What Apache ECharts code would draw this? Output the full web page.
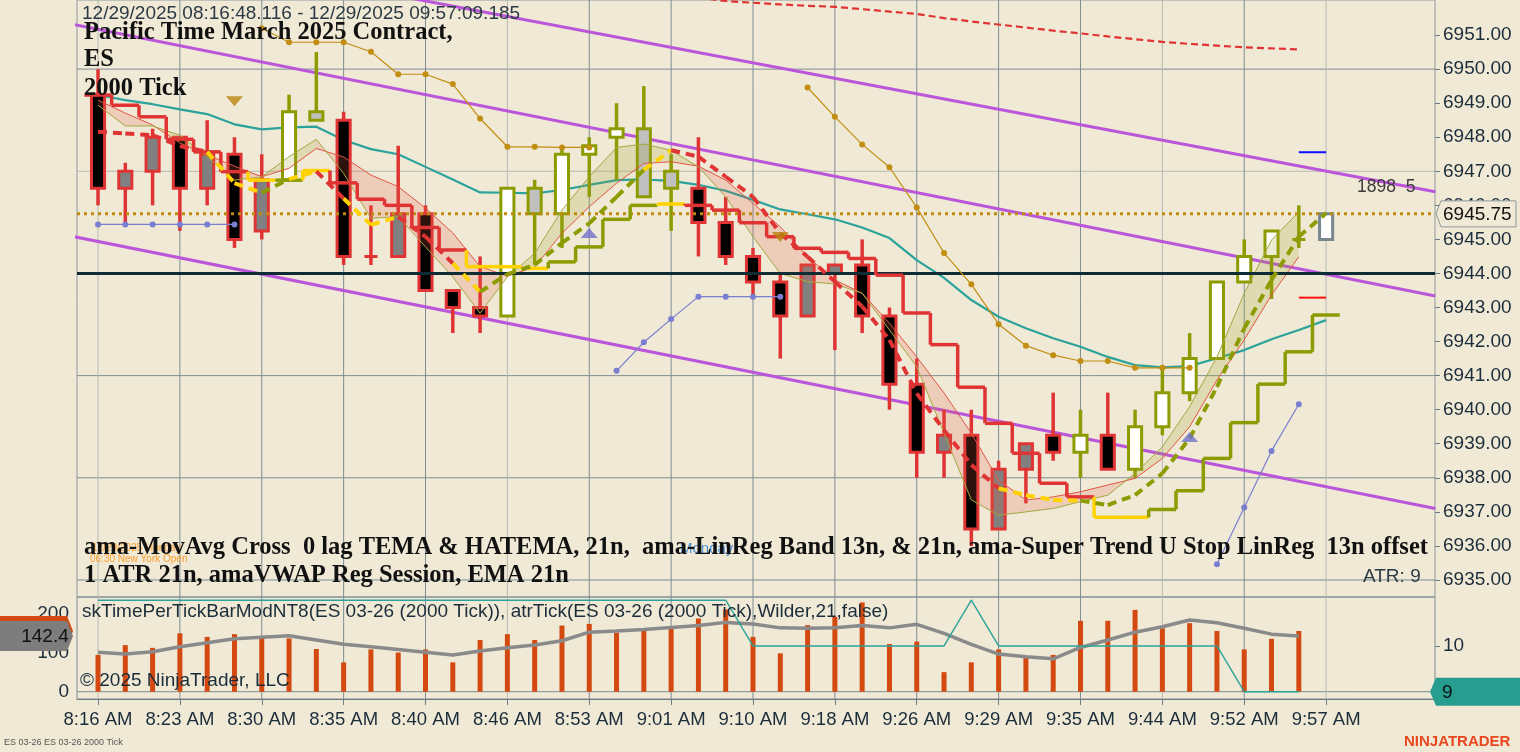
<!DOCTYPE html>
<html><head><meta charset="utf-8">
<script src="https://cdn.jsdelivr.net/npm/echarts@6.0.0/dist/echarts.min.js"></script>
<style>html,body{margin:0;padding:0;background:#f0e9d6;}#c{width:1520px;height:752px;}</style>
</head><body><div id="c"></div>
<script>
// ---------------- DATA ----------------
const times = ['8:16 AM','8:23 AM','8:30 AM','8:35 AM','8:40 AM','8:46 AM','8:53 AM','9:01 AM','9:10 AM','9:18 AM','9:26 AM','9:29 AM','9:35 AM','9:44 AM','9:52 AM','9:57 AM'];
const timeTickBars = [0,3,6,9,12,15,18,21,24,27,30,33,36,39,42,45];
const priceTicks = [6935,6936,6937,6938,6939,6940,6941,6942,6943,6944,6945,6946,6947,6948,6949,6950,6951];
const volTicks = [0,100,200];
const atrTicks = [10];

const open  = [6949.25,6946.5,6947.0,6948.0,6946.5,6947.5,6945.25,6946.75,6948.75,6948.5,6944.5,6944.5,6945.75,6943.5,6943.0,6942.75,6946.5,6945.75,6947.5,6948.0,6948.25,6947.0,6946.5,6945.5,6944.5,6943.75,6942.75,6944.0,6944.25,6942.75,6940.75,6938.75,6939.25,6936.5,6938.25,6939.25,6938.75,6939.25,6938.25,6939.5,6940.5,6941.5,6943.75,6944.5,6945.0,6945.0];
const high  = [6950.0,6947.25,6948.25,6948.0,6948.5,6948.0,6947.5,6949.25,6950.5,6948.75,6946.0,6947.75,6946.0,6943.5,6944.5,6946.5,6946.75,6947.75,6948.0,6949.0,6949.5,6947.5,6948.0,6946.25,6944.75,6944.0,6944.25,6944.25,6945.0,6943.0,6941.5,6940.0,6940.0,6938.5,6939.0,6940.5,6940.0,6940.5,6940.0,6941.25,6942.25,6943.75,6945.0,6945.25,6946.0,6945.75];
const low   = [6946.0,6945.5,6946.0,6945.25,6946.0,6944.75,6945.0,6946.75,6948.5,6944.25,6944.25,6944.5,6943.5,6942.25,6942.25,6942.75,6944.25,6944.75,6946.25,6946.75,6946.25,6945.25,6944.5,6944.25,6943.25,6941.5,6942.75,6941.75,6942.25,6940.0,6938.0,6938.0,6936.0,6936.5,6937.25,6938.5,6938.0,6938.25,6938.0,6939.25,6940.25,6941.5,6943.75,6943.25,6944.75,6945.0];
const close = [6946.5,6947.0,6948.0,6946.5,6947.5,6945.0,6946.75,6948.75,6948.5,6944.5,6944.5,6945.75,6943.5,6943.0,6942.75,6946.5,6945.75,6947.5,6947.75,6948.25,6946.25,6946.5,6945.5,6944.5,6943.75,6942.75,6944.25,6944.25,6942.75,6940.75,6938.75,6939.25,6936.5,6938.25,6939.0,6938.75,6939.25,6938.25,6939.5,6940.5,6941.5,6943.75,6944.5,6945.25,6945.0,6945.75];
// candle outline trend state: D = down, U = up, C = current bar
const barTrend = ('DDDDDDD'+'UU'+'DDDDDD'+'UUUUUUU'+'DDDDDDDDDDDDDD'+'U'+'D'+'UUUUUUU'+'C').split('');

// Super Trend stop (step) and its state R/Y/O
const stopLine = [6949.24,6948.94,6948.60,6947.94,6947.57,6946.99,6946.74,6946.74,6947.02,6946.66,6946.18,6946.00,6945.35,6944.69,6944.20,6944.20,6944.15,6944.34,6944.78,6945.59,6946.00,6946.04,6946.00,6945.86,6945.49,6945.08,6944.74,6944.62,6944.44,6943.95,6942.84,6941.91,6940.66,6939.60,6938.72,6937.84,6937.44,6936.84,6936.84,6937.07,6937.62,6938.57,6939.62,6940.75,6941.70,6942.78];
const stopState = ('RRRRRR'+'Y'+'O'+'Y'+'RRRRR'+'YYY'+'OOOO'+'Y'+'RRRRRRRRRRRRRRR'+'YY'+'OOOOOOO').split('');

// MovAvg cross (dashed) and state
const maLine = [6948.16,6948.11,6948.06,6947.74,6947.57,6946.65,6946.37,6946.77,6947.0,6946.2,6945.43,6945.66,6945.08,6944.3,6943.46,6943.98,6944.25,6944.9,6945.47,6946.25,6947.04,6947.62,6947.43,6946.84,6946.25,6945.18,6944.49,6943.76,6943.03,6942.05,6940.48,6939.4,6938.38,6937.69,6937.49,6937.35,6937.33,6937.2,6937.49,6938.13,6939.16,6940.67,6942.39,6943.81,6945.08,6945.77];
const maState = ('RRRRR'+'YY'+'O'+'Y'+'R'+'YY'+'RR'+'Y'+'OOOOOO'+'Y'+'RRRRRRRRRRRR'+'YYY'+'OOOOOOOOO').split('');

// LinReg band thin lines
const bandRed   = [6949.09,6948.71,6948.36,6947.83,6947.48,6947.15,6946.84,6947.09,6947.67,6947.42,6946.89,6946.55,6945.92,6945.19,6944.20,6943.92,6944.19,6945.18,6945.96,6946.65,6947.23,6947.28,6947.15,6946.74,6946.06,6945.37,6944.49,6943.81,6943.42,6942.54,6941.55,6940.49,6939.31,6937.93,6937.35,6937.44,6937.59,6937.79,6937.98,6938.57,6939.50,6940.87,6942.05,6943.37,6944.49];
const bandOlive = [6948.94,6948.33,6948.33,6948.06,6947.43,6946.74,6946.84,6947.43,6947.94,6946.94,6945.62,6945.67,6944.78,6943.90,6942.83,6943.90,6944.59,6945.86,6946.84,6947.70,6947.80,6947.62,6947.13,6946.25,6945.08,6944.00,6943.76,6943.69,6943.42,6942.34,6941.26,6939.31,6937.35,6936.90,6937.00,6937.10,6937.30,6937.49,6938.13,6938.91,6940.09,6941.55,6943.42,6944.98,6945.81];

// EMA 21
const emaLine = [6949.24,6949.09,6948.97,6948.82,6948.68,6948.38,6948.23,6948.29,6948.31,6947.92,6947.65,6947.50,6947.13,6946.76,6946.38,6946.37,6946.35,6946.45,6946.60,6946.74,6946.76,6946.72,6946.60,6946.43,6946.16,6945.88,6945.74,6945.59,6945.35,6945.04,6944.39,6943.87,6943.22,6942.73,6942.39,6942.10,6941.85,6941.55,6941.31,6941.24,6941.28,6941.51,6941.75,6942.07,6942.34,6942.63];

// VWAP style dotted segments
const vwapAStart = 6;
const vwapA = [6951.2,6950.79,6950.79,6950.79,6950.51,6949.85,6949.85,6949.56,6948.55,6947.72,6947.72,6947.70,6947.70];
const vwapBStart = 26;
const vwapB = [6949.46,6948.60,6947.79,6947.12,6945.94,6944.60,6943.68,6942.51,6941.88,6941.60,6941.43,6941.43,6941.23,6941.23,6941.23];
const blueAStart = 0;
const blueA = [6945.44,6945.44,6945.44,6945.44,6945.44,6945.44];
const blueBStart = 19;
const blueB = [6941.14,6941.98,6942.66,6943.32,6943.32,6943.32,6943.32];
const blueCStart = 41;
const blueC = [6935.46,6937.13,6938.79,6940.16];
const redDashStart = 22;
const redDash = [6952.1,6952.0,6951.95,6951.9,6951.86,6951.83,6951.76,6951.69,6951.62,6951.5,6951.4,6951.31,6951.22,6951.13,6951.05,6950.96,6950.88,6950.8,6950.74,6950.69,6950.64,6950.61,6950.58];

// regression channel lines (value at bar -1 and bar 49)
const chanBars = [-1, 49];
const chanTop = [6953.97, 6946.40];
const chanMid = [6951.33, 6943.34];
const chanBot = [6945.10, 6937.10];

const levelLine = 6944.0;
const lastPrice = 6945.75;
const blueMark = 6947.56, redMark = 6943.29, markBars = [44, 45];
const downSignals = [[5, 6949.06], [25, 6945.07]];
const upSignals = [[18, 6945.19], [40, 6939.2]];

// lower panel
const timePerTick = [94,119,112,149,140,147,139,136,109,75,108,100,108,75,132,147,132,169,173,151,158,163,187,210,140,98,170,191,228,122,128,50,75,108,89,94,181,181,209,162,175,155,108,135,155];
const timePerTickAvg = [101,96,102,115,125,135,139,143,132,121,115,108,101,94,104,112,119,130,152,155,159,164,169,177,173,163,162,163,169,163,172,149,121,96,89,84,113,132,152,166,183,176,162,147,142.4];
const atrValues = [11,11,11,11,11,11,11,11,11,11,11,11,11,11,11,11,11,11,11,11,11,11,11,11,10,10,10,10,10,10,10,10,11,10,10,10,10,10,10,10,10,10,9,9,9];

// ---------------- STYLE ----------------
const XMIN = -0.77, XMAX = 48.99;
const RED = '#e03434', OLIVE = '#8c9c00', YELLOW = '#ffd200', TEAL = '#2ba39a', PURPLE = '#bb55d9', GOLD = '#c28e12', BLUE = '#7a7ed0';
const GRID = '#7e8d93', GRIDL = '#b6bab4', AXT = '#1b2d3a';
const SANS = '"Liberation Sans", Arial, sans-serif';
const SERIF = '"Liberation Serif", "DejaVu Serif", serif';
const stateColor = {R: RED, Y: YELLOW, O: OLIVE};
const lightV = [0, 15, 39, 45];
const lightH = [6947];
const hGrid = [6935, 6938, 6941, 6947, 6950];

const chart = echarts.init(document.getElementById('c'), null, {renderer: 'canvas'});

const seq = (start, arr) => arr.map((v, k) => [start + k, v]);

function gridLineItem(params, api) {
  const cs = params.coordSys;
  const kind = api.value(0), v = api.value(1), ref = api.value(2);
  const isLight = api.value(3) === 1;
  const col = isLight ? GRIDL : GRID;
  if (kind === 0) {
    const y = api.coord([ref, v])[1];
    return {type: 'line', shape: {x1: cs.x, y1: y, x2: cs.x + cs.width, y2: y}, style: {stroke: col, lineWidth: 1}};
  }
  const x = api.coord([v, ref])[0];
  return {type: 'line', shape: {x1: x, y1: cs.y, x2: x, y2: cs.y + cs.height}, style: {stroke: col, lineWidth: 1}};
}

function renderCandle(params, api) {
  const idx = params.dataIndex;
  const i = api.value(0), o = api.value(1), c = api.value(2), l = api.value(3), h = api.value(4);
  const st = barTrend[idx];
  const stroke = st === 'D' ? RED : (st === 'U' ? OLIVE : '#78868f');
  let fill;
  if (st === 'D') fill = c > o ? '#808080' : '#000000';
  else if (st === 'U') fill = c < o ? '#c0c0c0' : '#ffffff';
  else fill = '#ffffff';
  const pO = api.coord([i, o]), pC = api.coord([i, c]), pH = api.coord([i, h]), pL = api.coord([i, l]);
  const w = api.size([1, 0])[0] * 0.48;
  const top = Math.min(pO[1], pC[1]), bot = Math.max(pO[1], pC[1]);
  return {type: 'group', children: [
    {type: 'line', shape: {x1: pH[0], y1: pH[1], x2: pL[0], y2: pL[1]}, style: {stroke, lineWidth: 3.5}},
    {type: 'rect', shape: {x: pO[0] - w / 2, y: top, width: w, height: bot - top}, style: {fill, stroke, lineWidth: 3}}
  ]};
}

function renderBand(params, api) {
  const i = api.value(0);
  const r0 = api.value(1), o0 = api.value(2), r1 = api.value(3), o1 = api.value(4);
  const pts = [api.coord([i, r0]), api.coord([i + 1, r1]), api.coord([i + 1, o1]), api.coord([i, o0])];
  const up = (o0 + o1) > (r0 + r1);
  return {type: 'polygon', shape: {points: pts}, style: {fill: up ? 'rgba(160,160,40,0.20)' : 'rgba(225,90,70,0.20)'}};
}

function renderStop(params, api) {
  const idx = params.dataIndex;
  const i = api.value(0), v = api.value(1), pv = api.value(2);
  const col = stateColor[stopState[idx]];
  const a = api.coord([i - 0.5, v]), b = api.coord([i + 0.5, v]), p = api.coord([i - 0.5, pv]);
  const ch = [{type: 'line', shape: {x1: a[0], y1: a[1], x2: b[0], y2: b[1]}, style: {stroke: col, lineWidth: 3.5}}];
  if (idx > 0) ch.push({type: 'line', shape: {x1: p[0], y1: p[1], x2: a[0], y2: a[1]}, style: {stroke: col, lineWidth: 3.5}});
  return {type: 'group', children: ch};
}

function renderMA(params, api) {
  const i = api.value(0);
  const a = api.coord([i - 1, api.value(1)]), b = api.coord([i, api.value(2)]);
  const col = stateColor[maState[i]];
  return {type: 'line', shape: {x1: a[0], y1: a[1], x2: b[0], y2: b[1]}, style: {stroke: col, lineWidth: 4, lineDash: [9, 6]}};
}

function renderVolBar(params, api) {
  const i = api.value(0), v = api.value(1);
  const a = api.coord([i, 0]), b = api.coord([i, v]);
  return {type: 'rect', shape: {x: a[0] - 2.5, y: b[1], width: 5, height: a[1] - b[1]}, style: {fill: '#d4490f'}};
}

function renderPriceTag(params, api) {
  const cs = params.coordSys;
  const y = api.coord([XMAX, api.value(0)])[1];
  const x0 = cs.x + cs.width;
  return {type: 'group', children: [
    {type: 'polygon', shape: {points: [[x0 + 1, y], [x0 + 6, y - 13], [1516, y - 13], [1516, y + 13], [x0 + 6, y + 13]]},
     style: {fill: '#f0e9d6', stroke: '#8d999e', lineWidth: 1}},
    {type: 'text', style: {text: api.value(0).toFixed(2), x: x0 + 8, y: y + 1, verticalAlign: 'middle', font: '19px ' + SANS, fill: '#111'}}
  ]};
}

function renderAtrTag(params, api) {
  const cs = params.coordSys;
  const y = api.coord([XMAX, api.value(0)])[1];
  const x0 = cs.x + cs.width - 5;
  return {type: 'group', children: [
    {type: 'polygon', shape: {points: [[x0, y], [x0 + 6, y - 14], [1520, y - 14], [1520, y + 14], [x0 + 6, y + 14]]}, style: {fill: '#279d8f'}},
    {type: 'text', style: {text: String(api.value(0)), x: x0 + 12, y: y + 1, verticalAlign: 'middle', font: '19px ' + SANS, fill: '#111'}}
  ]};
}

function renderLeftTag(params, api) {
  const cs = params.coordSys;
  const y = api.coord([XMIN, api.value(0)])[1];
  const isAvg = api.value(1) === 1;
  const x1 = cs.x - 4;
  const pts = [[0, y - 15], [x1 - 6, y - 15], [x1, y], [x1 - 6, y + 15], [0, y + 15]];
  const ch = [{type: 'polygon', shape: {points: pts}, style: {fill: isAvg ? '#7d7d7d' : '#d4490f'}}];
  if (isAvg) ch.push({type: 'text', style: {text: String(api.value(0)), x: 45, y: y + 1, align: 'center', verticalAlign: 'middle', font: '19px ' + SANS, fill: '#111'}});
  return {type: 'group', children: ch};
}

// grid line data
const gridMain = [];
hGrid.forEach(v => gridMain.push([0, v, 0, lightH.includes(v) ? 1 : 0]));
timeTickBars.forEach(b => gridMain.push([1, b, 6940, lightV.includes(b) ? 1 : 0]));
const gridLow = [[0, 0, 0, 0]];
timeTickBars.forEach(b => gridLow.push([1, b, 100, lightV.includes(b) ? 1 : 0]));

const lineS = (data, color, width, extra) => Object.assign({
  type: 'line', xAxisIndex: 0, yAxisIndex: 0, data, symbol: 'none', silent: true,
  lineStyle: {color, width}, z: 3
}, extra || {});

const dotLine = (data, color, z) => ({
  type: 'line', xAxisIndex: 0, yAxisIndex: 0, data, symbol: 'circle', symbolSize: 6, showAllSymbol: true,
  itemStyle: {color}, lineStyle: {color, width: 1.2}, z, silent: true
});

const option = {
  backgroundColor: '#f0e9d6',
  animation: false,
  grid: [
    {left: 77, right: 85, top: 0, height: 597, show: true, borderColor: '#8d999e', borderWidth: 1, backgroundColor: 'transparent'},
    {left: 77, right: 85, top: 597, height: 102, show: true, borderColor: '#7e8d93', borderWidth: 1, backgroundColor: 'transparent'}
  ],
  xAxis: [
    {gridIndex: 0, type: 'value', min: XMIN, max: XMAX, show: false, axisLine: {onZero: false}},
    {gridIndex: 1, type: 'value', min: XMIN, max: XMAX,
     axisLine: {show: true, onZero: false, lineStyle: {color: '#6d7c82'}},
     axisTick: {show: true, customValues: timeTickBars, length: 6, lineStyle: {color: '#6d7c82'}},
     axisLabel: {customValues: timeTickBars, formatter: v => times[Math.round(v / 3)], fontSize: 18.5, color: AXT, margin: 11, fontFamily: SANS},
     splitLine: {show: false}}
  ],
  yAxis: [
    {gridIndex: 0, type: 'value', position: 'right', min: 6934.5, max: 6952.03,
     axisLine: {show: false, onZero: false}, splitLine: {show: false},
     axisTick: {show: true, customValues: priceTicks, length: 5, lineStyle: {color: '#6d7c82'}},
     axisLabel: {customValues: priceTicks, formatter: v => v.toFixed(2), fontSize: 19, color: AXT, margin: 8, fontFamily: SANS}},
    {gridIndex: 1, type: 'value', position: 'left', min: -18.6, max: 241.8,
     axisLine: {show: false, onZero: false}, splitLine: {show: false},
     axisTick: {show: false},
     axisLabel: {customValues: volTicks, fontSize: 19, color: AXT, margin: 8, fontFamily: SANS}},
    {gridIndex: 1, type: 'value', position: 'right', min: 8.84, max: 11.07,
     axisLine: {show: false, onZero: false}, splitLine: {show: false},
     axisTick: {show: true, customValues: atrTicks, length: 5, lineStyle: {color: '#6d7c82'}},
     axisLabel: {customValues: atrTicks, fontSize: 19, color: AXT, margin: 8, fontFamily: SANS}}
  ],
  series: [
    {type: 'custom', name: 'gridMain', xAxisIndex: 0, yAxisIndex: 0, data: gridMain, renderItem: gridLineItem, z: 1, silent: true, clip: true},
    {type: 'custom', name: 'gridLow', xAxisIndex: 1, yAxisIndex: 1, data: gridLow, renderItem: gridLineItem, z: 1, silent: true, clip: true},
    lineS(chanBars.map((b, k) => [b, chanTop[k]]), PURPLE, 3),
    lineS(chanBars.map((b, k) => [b, chanMid[k]]), PURPLE, 3),
    lineS(chanBars.map((b, k) => [b, chanBot[k]]), PURPLE, 3),
    lineS(seq(0, emaLine), TEAL, 2.2),
    lineS(seq(redDashStart, redDash), RED, 2, {lineStyle: {color: RED, width: 2.2, type: [7, 4]}}),
    {type: 'custom', name: 'candles', xAxisIndex: 0, yAxisIndex: 0, data: open.map((o, i) => [i, o, close[i], low[i], high[i]]),
     encode: {x: 0, y: [1, 2, 3, 4]}, renderItem: renderCandle, z: 5, clip: true, silent: true},
    {type: 'custom', name: 'band', xAxisIndex: 0, yAxisIndex: 0,
     data: bandRed.slice(0, -1).map((r, i) => [i, r, bandOlive[i], bandRed[i + 1], bandOlive[i + 1]]),
     renderItem: renderBand, z: 6, clip: true, silent: true},
    lineS(seq(0, bandRed), '#e25545', 1, {z: 7}),
    lineS(seq(0, bandOlive), '#a3a840', 1, {z: 7}),
    lineS([[XMIN, levelLine], [XMAX, levelLine]], '#0f2c34', 3, {z: 7}),
    lineS([[XMIN, lastPrice], [XMAX, lastPrice]], '#c08a0c', 3, {z: 7, lineStyle: {color: '#c08a0c', width: 3, type: [3, 4]}}),
    lineS(markBars.map(b => [b, blueMark]), '#1010ff', 2, {z: 7}),
    lineS(markBars.map(b => [b, redMark]), '#ff1010', 2, {z: 7}),
    dotLine(seq(vwapAStart, vwapA), GOLD, 8),
    dotLine(seq(vwapBStart, vwapB), GOLD, 8),
    dotLine(seq(blueAStart, blueA), BLUE, 8),
    dotLine(seq(blueBStart, blueB), BLUE, 8),
    dotLine(seq(blueCStart, blueC), BLUE, 8),
    {type: 'custom', name: 'stop', xAxisIndex: 0, yAxisIndex: 0, data: stopLine.map((v, i) => [i, v, i > 0 ? stopLine[i - 1] : v]),
     renderItem: renderStop, z: 9, clip: true, silent: true},
    {type: 'custom', name: 'ma', xAxisIndex: 0, yAxisIndex: 0, data: maLine.slice(1).map((v, k) => [k + 1, maLine[k], v]),
     renderItem: renderMA, z: 10, clip: true, silent: true},
    {type: 'scatter', xAxisIndex: 0, yAxisIndex: 0, data: downSignals, symbol: 'triangle', symbolRotate: 180, symbolSize: [17, 10], itemStyle: {color: '#b8860b'}, z: 11, silent: true},
    {type: 'scatter', xAxisIndex: 0, yAxisIndex: 0, data: upSignals, symbol: 'triangle', symbolSize: [17, 10], itemStyle: {color: '#7070c8'}, z: 11, silent: true},
    {type: 'custom', xAxisIndex: 0, yAxisIndex: 0, data: [[lastPrice]], encode: {y: 0}, renderItem: renderPriceTag, z: 20, silent: true, clip: false},
    {type: 'custom', name: 'tpt', xAxisIndex: 1, yAxisIndex: 1, data: seq(0, timePerTick), renderItem: renderVolBar, z: 3, clip: true, silent: true},
    {type: 'line', xAxisIndex: 1, yAxisIndex: 1, data: seq(0, timePerTickAvg), symbol: 'none', lineStyle: {color: '#8a8a8a', width: 3.5}, z: 4, silent: true},
    {type: 'line', xAxisIndex: 1, yAxisIndex: 2, data: seq(0, atrValues), symbol: 'none', lineStyle: {color: TEAL, width: 1.4}, z: 4, silent: true},
    {type: 'custom', xAxisIndex: 1, yAxisIndex: 2, data: [[atrValues[atrValues.length - 1]]], encode: {y: 0}, renderItem: renderAtrTag, z: 20, silent: true, clip: false},
    {type: 'custom', xAxisIndex: 1, yAxisIndex: 1, data: [[timePerTick[timePerTick.length - 1], 0], [timePerTickAvg[timePerTickAvg.length - 1], 1]], encode: {y: 0}, renderItem: renderLeftTag, z: 20, silent: true, clip: false}
  ],
  graphic: [
    {type: 'text', left: 82, top: 4, z: 100, style: {text: '12/29/2025 08:16:48.116 - 12/29/2025 09:57:09.185', font: '19px ' + SANS, fill: '#2b3a44'}},
    {type: 'text', left: 84, top: 20, z: 100, style: {text: 'Pacific Time March 2025 Contract,', font: 'bold 24.5px ' + SERIF, fill: '#111'}},
    {type: 'text', left: 84, top: 47, z: 100, style: {text: 'ES', font: 'bold 24.5px ' + SERIF, fill: '#111'}},
    {type: 'text', left: 84, top: 76, z: 100, style: {text: '2000 Tick', font: 'bold 24.5px ' + SERIF, fill: '#111'}},
    {type: 'text', left: 1357, top: 178, z: 100, style: {text: '1898  5', font: '17.5px ' + SANS, fill: '#3a3a3a'}},
    {type: 'text', left: 92, top: 543, z: 99, style: {text: '12/29/2025 Monday', font: '10px ' + SANS, fill: '#ff9d2a'}},
    {type: 'text', left: 90, top: 554, z: 99, style: {text: '06:30 New York Open', font: '10px ' + SANS, fill: '#ff9d2a'}},
    {type: 'text', left: 680, top: 541, z: 99, style: {text: 'Monday', font: '15px ' + SANS, fill: '#4a8fd6'}},
    {type: 'text', left: 84, top: 535, z: 100, style: {text: 'ama-MovAvg Cross  0 lag TEMA & HATEMA, 21n,  ama-LinReg Band 13n, & 21n, ama-Super Trend U Stop LinReg  13n offset', font: 'bold 24.5px ' + SERIF, fill: '#111'}},
    {type: 'text', left: 84, top: 563, z: 100, style: {text: '1 ATR 21n, amaVWAP Reg Session, EMA 21n', font: 'bold 24.5px ' + SERIF, fill: '#111'}},
    {type: 'text', left: 1363, top: 567, z: 100, style: {text: 'ATR: 9', font: '19px ' + SANS, fill: '#2b3a44'}},
    {type: 'text', left: 82, top: 602, z: 100, style: {text: 'skTimePerTickBarModNT8(ES 03-26 (2000 Tick)), atrTick(ES 03-26 (2000 Tick),Wilder,21,false)', font: '19px ' + SANS, fill: AXT}},
    {type: 'text', left: 80, top: 671, z: 100, style: {text: '\u00a9 2025 NinjaTrader, LLC', font: '19px ' + SANS, fill: AXT}},
    {type: 'text', left: 4, top: 738, z: 100, style: {text: 'ES 03-26 ES 03-26 2000 Tick', font: '9px ' + SANS, fill: '#555'}},
    {type: 'text', left: 1404, top: 734, z: 100, style: {text: 'NINJATRADER', font: 'bold 15px ' + SANS, fill: '#e8471f'}}
  ]
};
chart.setOption(option);
</script></body></html>
